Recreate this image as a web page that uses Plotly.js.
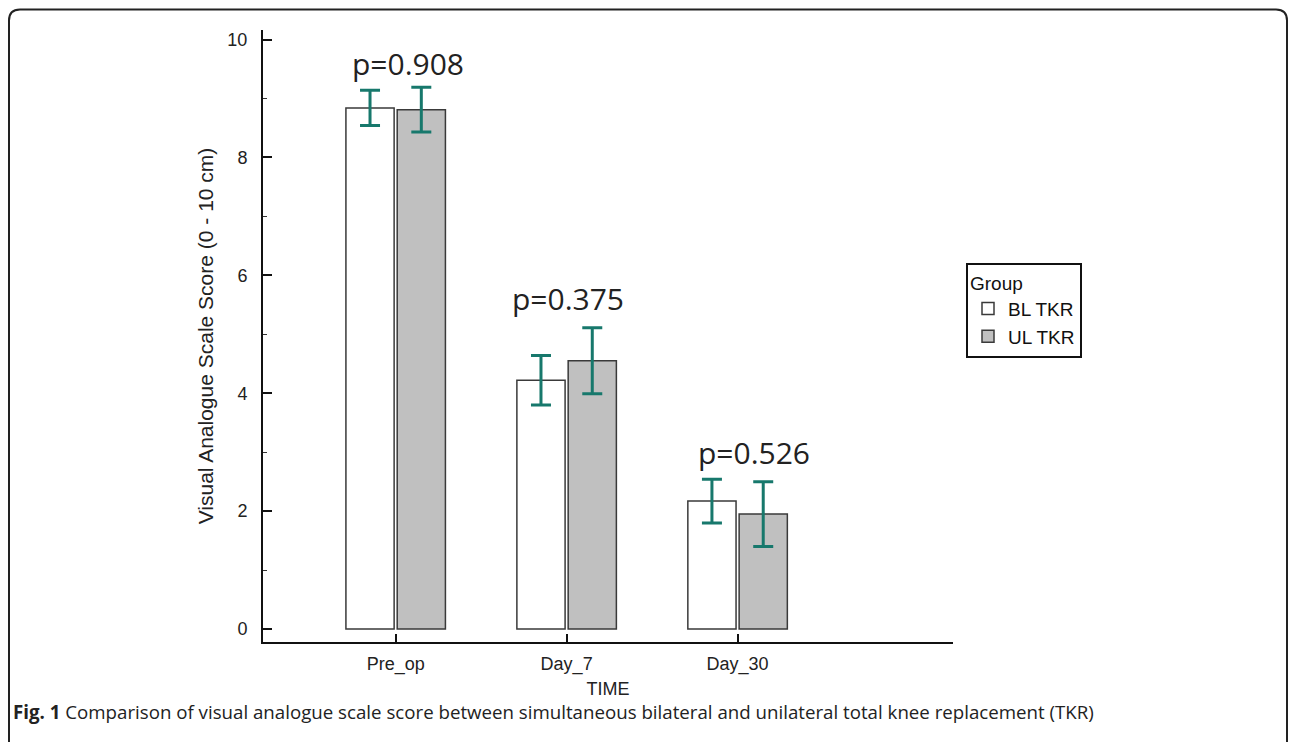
<!DOCTYPE html>
<html>
<head>
<meta charset="utf-8">
<script src="https://cdn.plot.ly/plotly-3.0.1.min.js"></script>
<style>
html,body{margin:0;padding:0;background:#fff;}
#chart{width:1292px;height:742px;}
</style>
</head>
<body>
<div id="chart"></div>
<script>
// ---- data ----
const categories = ["Pre_op", "Day_7", "Day_30"];
const groupNames = ["BL TKR", "UL TKR"];
const blMeans = [8.84, 4.22, 2.17];
const blErrors = [0.30, 0.42, 0.37];
const ulMeans = [8.81, 4.55, 1.95];
const ulErrors = [0.38, 0.56, 0.55];
const pLabels = ["p=0.908", "p=0.375", "p=0.526"];
const pLabelY = [9.6, 5.6, 3.0];
const captionBold = "Fig. 1";
const captionText = "Comparison of visual analogue scale score between simultaneous bilateral and unilateral total knee replacement (TKR)";
const yTitle = "Visual Analogue Scale Score (0 - 10 cm)";
const xTitle = "TIME";
const legendTitle = "Group";

// ---- layout geometry (pixels) ----
const W = 1292, H = 742;
const M = {l: 263, r: 339, t: 30, b: 100};
const plotW = W - M.l - M.r, plotH = H - M.t - M.b;
const px = x => (x - M.l) / plotW;
const py = y => (H - M.b - y) / plotH;
const pShift = [12, 1, 16];

const errColor = "#17786c";
const barLine = {color: "#3a3a3a", width: 1.5};
const sans = "Liberation Sans, Arial, sans-serif";

const traces = [
  {
    type: "bar", name: groupNames[0], x: categories, y: blMeans,
    marker: {color: "#ffffff", line: barLine},
    error_y: {type: "data", array: blErrors, visible: true, color: errColor, thickness: 3, width: 10},
    hoverinfo: "skip"
  },
  {
    type: "bar", name: groupNames[1], x: categories, y: ulMeans,
    marker: {color: "#c0c0c0", line: barLine},
    error_y: {type: "data", array: ulErrors, visible: true, color: errColor, thickness: 3, width: 10},
    hoverinfo: "skip"
  }
];

// rounded frame path in paper coords
function framePath(x0, y0, x1, y1, r) {
  const X = v => px(v), Y = v => py(v);
  return `M ${X(x0)},${Y(y1)} L ${X(x0)},${Y(y0 + r)} Q ${X(x0)},${Y(y0)} ${X(x0 + r)},${Y(y0)} ` +
         `L ${X(x1 - r)},${Y(y0)} Q ${X(x1)},${Y(y0)} ${X(x1)},${Y(y0 + r)} L ${X(x1)},${Y(y1)}`;
}

const annotations = categories.map((c, i) => ({
  x: c, y: pLabelY[i], xref: "x", yref: "y", text: pLabels[i], showarrow: false,
  xshift: pShift[i],
  font: {family: "Open Sans, Noto Sans, sans-serif", size: 30, color: "#222"},
  xanchor: "center", yanchor: "middle"
}));
annotations.push({
  xref: "paper", yref: "paper", x: px(11), y: py(711), xanchor: "left", yanchor: "middle",
  text: "<b>" + captionBold + "</b> " + captionText, showarrow: false,
  font: {family: "Open Sans, Noto Sans, sans-serif", size: 18.7, color: "#222"}
});

const layout = {
  width: W, height: H,
  margin: M,
  paper_bgcolor: "#ffffff", plot_bgcolor: "#ffffff",
  barmode: "group", bargap: 0.4, bargroupgap: 0.06,
  showlegend: true,
  legend: {
    title: {text: legendTitle, font: {family: sans, size: 19, color: "#111"}},
    font: {family: sans, size: 19, color: "#111"},
    x: px(966), y: py(263), xanchor: "left", yanchor: "top",
    bordercolor: "#111", borderwidth: 2, bgcolor: "#fff",
    tracegroupgap: 0, itemwidth: 30
  },
  xaxis: {
    type: "category", range: [-0.776, 3.26],
    showline: true, linecolor: "#111", linewidth: 2,
    ticks: "inside", ticklen: 8, tickwidth: 2, tickcolor: "#111",
    showgrid: false, zeroline: false,
    ticklabelstandoff: 4,
    tickfont: {family: sans, size: 18, color: "#222"},
    title: {text: xTitle, font: {family: "Liberation Sans Narrow, Liberation Sans, Arial, sans-serif", size: 18, color: "#222"}, standoff: 9}
  },
  yaxis: {
    range: [-(642 - 629) / 58.95, (629 - 30) / 58.95],
    showline: true, linecolor: "#111", linewidth: 2,
    ticks: "inside", ticklen: 9, tickwidth: 2, tickcolor: "#111",
    tickvals: [0, 2, 4, 6, 8, 10],
    minor: {tickvals: [1, 3, 5, 7, 9], ticks: "inside", ticklen: 4, tickwidth: 1, tickcolor: "#333"},
    showgrid: false, zeroline: false,
    ticklabelstandoff: 10,
    tickfont: {family: sans, size: 18, color: "#222"},
    title: {text: yTitle, font: {family: sans, size: 21, color: "#222"}, standoff: 8}
  },
  annotations: annotations,
  shapes: [{
    type: "path", xref: "paper", yref: "paper",
    path: framePath(9, 9.5, 1287, 760, 11),
    line: {color: "#222", width: 2}
  }]
};

Plotly.newPlot("chart", traces, layout, {displayModeBar: false, staticPlot: true});
</script>
</body>
</html>
